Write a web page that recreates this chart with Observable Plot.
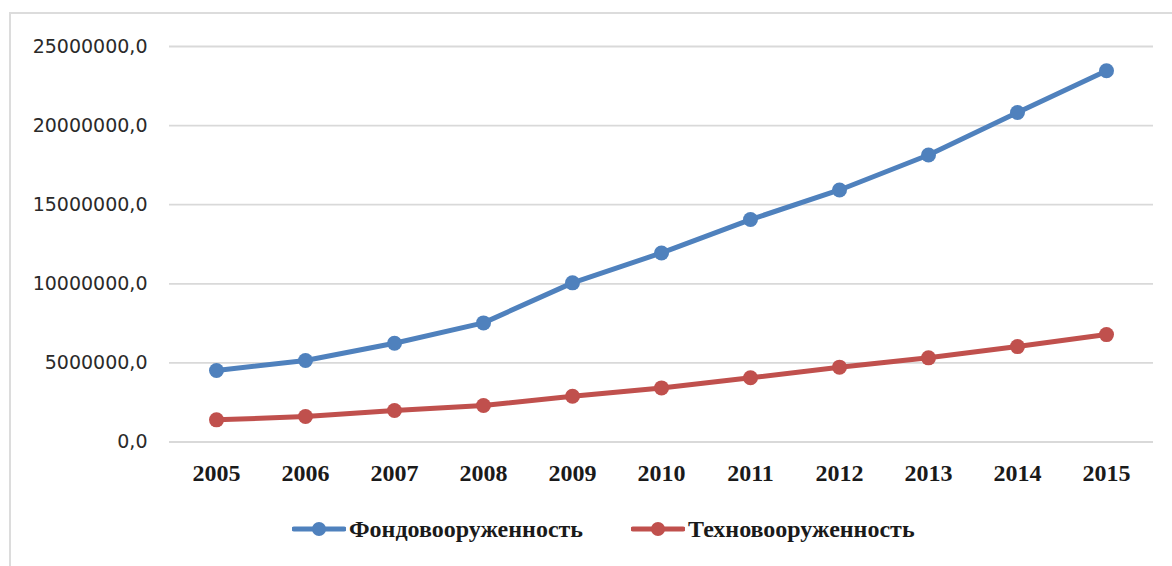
<!DOCTYPE html>
<html>
<head>
<meta charset="utf-8">
<script src="https://cdn.jsdelivr.net/npm/d3@7"></script>
<script src="https://cdn.jsdelivr.net/npm/@observablehq/plot@0.6"></script>
<style>
  html, body { margin: 0; padding: 0; background: #fff; }
  body { width: 1172px; height: 566px; position: relative; overflow: hidden; }
  #frame { position: absolute; left: 9px; top: 12px; right: -10px; bottom: -10px;
           border-left: 2px solid #dcdcdc; border-top: 2px solid #dcdcdc; pointer-events: none; }
  #chart { position: absolute; left: 0; top: 0; }
  #legend { position: absolute; left: 292px; top: 500px; height: 58px; display: flex; align-items: center;
            font-family: "Liberation Serif", serif; font-weight: bold; font-size: 24px; color: #1a1a1a; }
  .item { display: flex; align-items: center; }
  .item svg { margin-right: 3px; }
</style>
</head>
<body>
<div id="chart"></div>
<div id="legend"></div>
<div id="frame"></div>
<script>
const years = ["2005","2006","2007","2008","2009","2010","2011","2012","2013","2014","2015"];
const seriesNames = ["Фондовооруженность", "Техновооруженность"];
const fondo = [4520000, 5150000, 6240000, 7530000, 10060000, 11950000, 14060000, 15930000, 18140000, 20830000, 23470000];
const techno = [1400000, 1610000, 1990000, 2310000, 2890000, 3420000, 4060000, 4730000, 5320000, 6030000, 6790000];
const yTicks = [0, 5000000, 10000000, 15000000, 20000000, 25000000];
const colors = ["#4F81BD", "#C0504D"];

const data = [];
years.forEach((y, i) => {
  data.push({year: y, value: fondo[i], series: seriesNames[0]});
  data.push({year: y, value: techno[i], series: seriesNames[1]});
});

const fmt = d => d.toFixed(1).replace(".", ",");

const chart = Plot.plot({
  width: 1172,
  height: 500,
  marginLeft: 169,
  marginRight: 19,
  marginTop: 46,
  marginBottom: 58.5,
  style: { background: "transparent", overflow: "visible" },
  x: { type: "point", domain: years, padding: 0.5, label: null },
  y: { domain: [0, 25000000], label: null },
  color: { domain: seriesNames, range: colors },
  marks: [
    Plot.ruleY(yTicks, { stroke: "#d9d9d9", strokeWidth: 1.8 }),
    Plot.axisY({ ticks: yTicks, tickFormat: fmt, tickSize: 0, tickPadding: 22, label: null,
                 fontSize: 19, fontFamily: "DejaVu Sans", fill: "#2a2a2a" }),
    Plot.axisX({ tickSize: 0, tickPadding: 22, label: null,
                 fontSize: 24, fontFamily: "Liberation Serif", fontWeight: "bold", fill: "#1a1a1a" }),
    Plot.line(data, { x: "year", y: "value", z: "series", stroke: "series", strokeWidth: 5, strokeLinejoin: "round", strokeLinecap: "round" }),
    Plot.dot(data, { x: "year", y: "value", fill: "series", r: 7.5, stroke: null })
  ]
});
document.getElementById("chart").appendChild(chart);

const legend = document.getElementById("legend");
seriesNames.forEach((name, i) => {
  const item = document.createElement("div");
  item.className = "item";
  if (i > 0) item.style.marginLeft = "48px";
  item.innerHTML = `<svg width="54" height="20"><line x1="2" y1="10" x2="52" y2="10" stroke="${colors[i]}" stroke-width="5" stroke-linecap="round"/><circle cx="27" cy="10" r="7" fill="${colors[i]}"/></svg><span>${name}</span>`;
  legend.appendChild(item);
});
</script>
</body>
</html>
